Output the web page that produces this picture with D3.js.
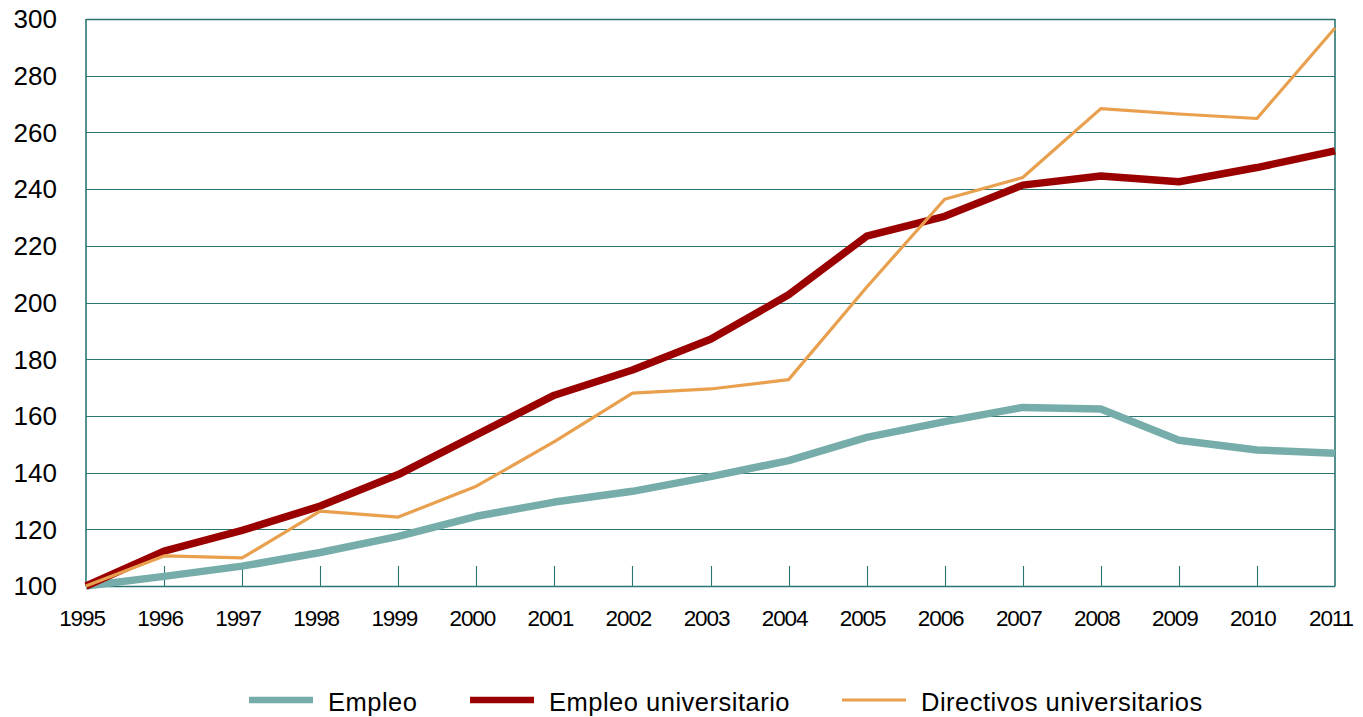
<!DOCTYPE html>
<html>
<head>
<meta charset="utf-8">
<script src="https://cdn.jsdelivr.net/npm/d3@7"></script>
<style>
  html, body { margin: 0; padding: 0; background: #fff; }
  svg { display: block; font-family: "Liberation Sans", Arial, sans-serif; }
</style>
</head>
<body>
<svg id="chart" width="1363" height="717"></svg>
<script>
var years = [1995, 1996, 1997, 1998, 1999, 2000, 2001, 2002, 2003, 2004, 2005, 2006, 2007, 2008, 2009, 2010, 2011];
var empleo = [100, 103.4, 107, 111.8, 117.5, 124.6, 129.6, 133.4, 138.6, 144.2, 152.4, 158, 163, 162.4, 151.4, 148, 146.8];
var empleoUniv = [100, 112.3, 119.6, 128.2, 139.3, 153.3, 167.3, 176.2, 187, 202.7, 223.4, 230.4, 241.4, 244.6, 242.6, 247.6, 253.5];
var directivos = [100, 110.6, 109.9, 126.4, 124.3, 135.2, 150.9, 168, 169.5, 172.8, 205.4, 236.4, 244.1, 268.4, 266.5, 264.9, 296.8];
var yTicks = [100, 120, 140, 160, 180, 200, 220, 240, 260, 280, 300];
var seriesNames = ['Empleo', 'Empleo universitario', 'Directivos universitarios'];

var series = [
  {name: seriesNames[0], values: empleo, color: '#76adaa', width: 7.5},
  {name: seriesNames[1], values: empleoUniv, color: '#9b0000', width: 7.5},
  {name: seriesNames[2], values: directivos, color: '#e9a04e', width: 3.2}
];

var svg = d3.select('#chart'),
    plotLeft = 86,
    plotRight = 1335,
    plotTop = 19,
    plotBottom = 586,
    gridColor = '#2a7572';

var x = d3.scaleLinear().domain([1995, 2011]).range([plotLeft, plotRight]);
var y = d3.scaleLinear().domain([100, 300]).range([plotBottom, plotTop]);

// grid lines
svg.append('g')
  .selectAll('line')
  .data(yTicks)
  .enter()
  .append('line')
  .attr('x1', plotLeft)
  .attr('x2', plotRight)
  .attr('y1', function(d) { return Math.round(y(d)) + 0.5; })
  .attr('y2', function(d) { return Math.round(y(d)) + 0.5; })
  .attr('stroke', gridColor)
  .attr('stroke-width', function(d) { return d === 300 || d === 100 ? 1.6 : 1.1; });

// borders left / right
svg.append('g')
  .selectAll('line')
  .data([plotLeft, plotRight])
  .enter()
  .append('line')
  .attr('x1', function(d) { return d; })
  .attr('x2', function(d) { return d; })
  .attr('y1', plotTop)
  .attr('y2', plotBottom + 0.5)
  .attr('stroke', gridColor)
  .attr('stroke-width', 1.6);

// short year ticks
svg.append('g')
  .selectAll('line')
  .data(years.slice(1, -1))
  .enter()
  .append('line')
  .attr('x1', function(d) { return Math.round(x(d)) + 0.5; })
  .attr('x2', function(d) { return Math.round(x(d)) + 0.5; })
  .attr('y1', plotBottom - 20)
  .attr('y2', plotBottom)
  .attr('stroke', gridColor)
  .attr('stroke-width', 1.1);

// y labels
svg.append('g')
  .selectAll('text')
  .data(yTicks)
  .enter()
  .append('text')
  .attr('x', 57)
  .attr('y', function(d) { return y(d); })
  .attr('dy', '0.36em')
  .attr('text-anchor', 'end')
  .attr('font-size', 26)
  .attr('fill', '#000')
  .text(function(d) { return d; });

// x labels
svg.append('g')
  .selectAll('text')
  .data(years)
  .enter()
  .append('text')
  .attr('x', function(d) { return x(d) - 4; })
  .attr('y', 626)
  .attr('text-anchor', 'middle')
  .attr('font-size', 22.5)
  .attr('letter-spacing', -1.1)
  .attr('fill', '#000')
  .text(function(d) { return d; });

// series lines
var line = d3.line()
  .x(function(d, i) { return x(years[i]); })
  .y(function(d) { return y(d); });

svg.append('g')
  .selectAll('path')
  .data(series)
  .enter()
  .append('path')
  .attr('d', function(s) { return line(s.values); })
  .attr('fill', 'none')
  .attr('stroke', function(s) { return s.color; })
  .attr('stroke-width', function(s) { return s.width; })
  .attr('stroke-linejoin', 'round');

// legend
var legendX = [249, 470, 842];
var legend = svg.append('g')
  .selectAll('g')
  .data(series)
  .enter()
  .append('g')
  .attr('transform', function(s, i) { return 'translate(' + legendX[i] + ',700)'; });

legend.append('line')
  .attr('x1', 0)
  .attr('x2', 64)
  .attr('y1', 0)
  .attr('y2', 0)
  .attr('stroke', function(s) { return s.color; })
  .attr('stroke-width', function(s) { return s.width === 3.2 ? 3 : 6.5; });

legend.append('text')
  .attr('x', 79)
  .attr('y', 11)
  .attr('font-size', 25.5)
  .attr('letter-spacing', 0.5)
  .attr('fill', '#000')
  .text(function(s) { return s.name; });
</script>
</body>
</html>
